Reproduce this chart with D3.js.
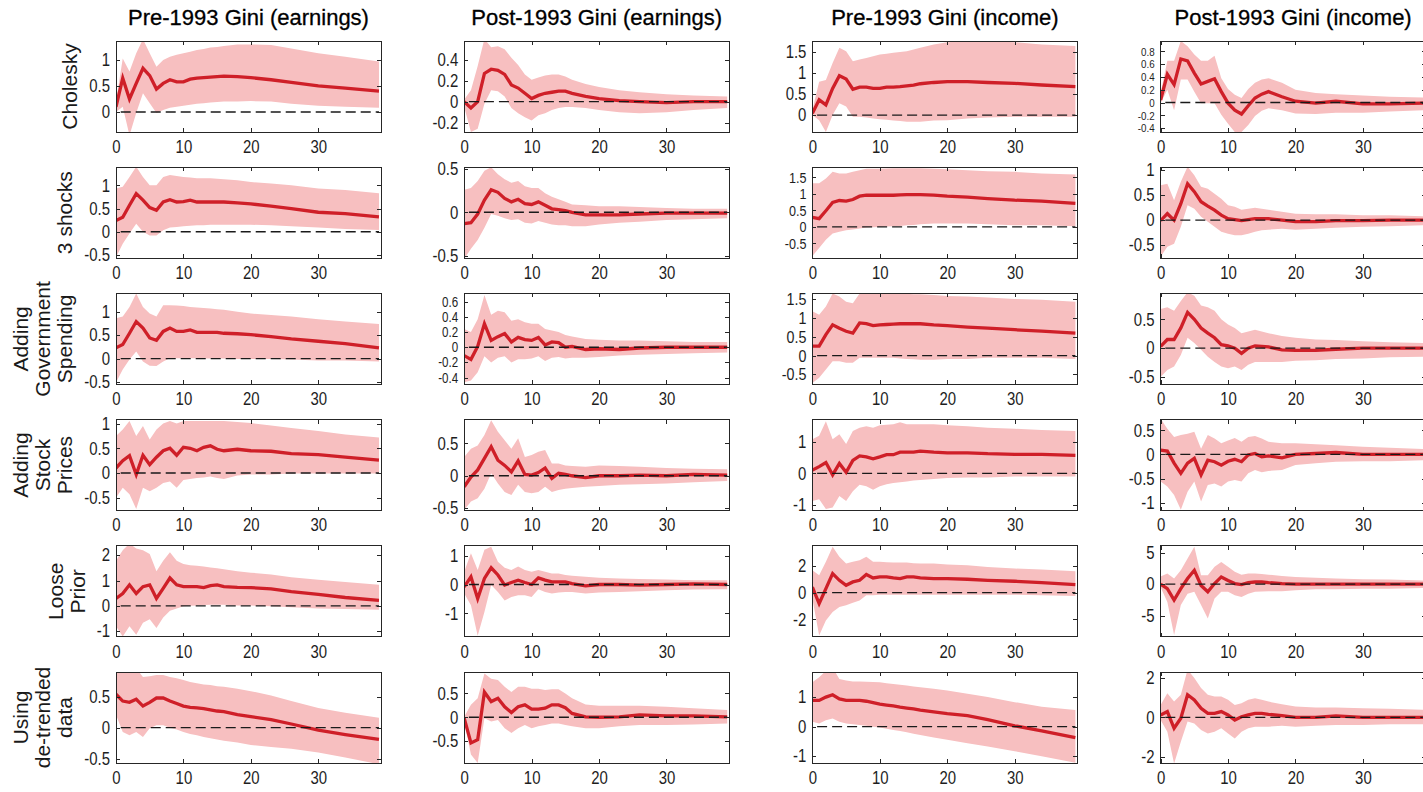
<!DOCTYPE html>
<html>
<head>
<meta charset="utf-8">
<script src="https://cdn.jsdelivr.net/npm/d3@7"></script>
<style>
  body { margin: 0; background: #fff; }
  svg { display: block; font-family: "Liberation Sans", Arial, Helvetica, sans-serif; }
  .axis text { fill: #1e1e1e; font-size: 18px; }
  .axis line { stroke: #262626; shape-rendering: crispEdges; }
  .axis .domain { display: none; }
</style>
</head>
<body>
<div id="chartDiv"></div>
<script>
const steps = [0,1,2,3,4,5,6,7,8,9,10,11,12,13,14,15,16,18,20,23,26,30,34,39];

const colTitles = ["Pre-1993 Gini (earnings)", "Post-1993 Gini (earnings)", "Pre-1993 Gini (income)", "Post-1993 Gini (income)"];

const rowLabels = [
  ["Cholesky"],
  ["3 shocks"],
  ["Adding", "Government", "Spending"],
  ["Adding", "Stock", "Prices"],
  ["Loose", "Prior"],
  ["Using", "de-trended", "data"]
];

const xTicks = [0, 10, 20, 30];

// y ticks per column, one list per row
const yTickValues = [
  [[0,0.5,1], [-0.5,0,0.5,1], [-0.5,0,0.5,1], [-0.5,0,0.5,1], [-1,0,1,2], [-0.5,0,0.5]],
  [[-0.2,0,0.2,0.4], [-0.5,0,0.5], [-0.4,-0.2,0,0.2,0.4,0.6], [-0.5,0,0.5], [-1,0,1], [-0.5,0,0.5]],
  [[0,0.5,1,1.5], [-0.5,0,0.5,1,1.5], [-0.5,0,0.5,1,1.5], [-1,0,1], [-2,0,2], [-1,0,1]],
  [[-0.4,-0.2,0,0.2,0.4,0.6,0.8], [-0.5,0,0.5,1], [-0.5,0,0.5], [-1,-0.5,0,0.5], [-5,0,5], [-2,0,2]]
];

// y axis limits per column / row
const yLimits = [
  [[-0.385,1.365], [-0.57,1.39], [-0.55,1.39], [-0.76,1.08], [-1.22,2.37], [-0.57,0.90]],
  [[-0.29,0.58], [-0.53,0.52], [-0.49,0.71], [-0.54,0.87], [-1.81,1.34], [-0.96,0.95]],
  [[-0.40,1.75], [-0.95,1.81], [-0.77,1.66], [-1.18,1.70], [-3.3,3.5], [-1.23,1.85]],
  [[-0.46,0.96], [-0.76,1.06], [-0.63,0.95], [-1.16,0.72], [-8.3,6.06], [-2.33,2.31]]
];

// ---- Pre-1993 Gini (earnings)
const preEarnMed = [
  [0.1,0.65,0.25,0.55,0.84,0.7,0.44,0.55,0.62,0.58,0.58,0.63,0.65,0.66,0.67,0.68,0.69,0.68,0.66,0.62,0.57,0.5,0.46,0.4],
  [0.24,0.31,0.57,0.82,0.68,0.52,0.46,0.64,0.69,0.64,0.65,0.68,0.64,0.64,0.64,0.64,0.64,0.62,0.6,0.55,0.5,0.42,0.39,0.32],
  [0.23,0.3,0.54,0.79,0.65,0.44,0.39,0.58,0.65,0.58,0.58,0.61,0.56,0.56,0.56,0.56,0.54,0.53,0.51,0.47,0.42,0.37,0.32,0.23],
  [0.1,0.25,0.35,-0.03,0.36,0.17,0.32,0.45,0.5,0.36,0.52,0.5,0.45,0.52,0.55,0.48,0.45,0.48,0.45,0.44,0.39,0.37,0.32,0.26],
  [0.29,0.49,0.83,0.49,0.76,0.83,0.29,0.69,1.1,0.83,0.76,0.76,0.76,0.72,0.8,0.83,0.76,0.73,0.72,0.67,0.56,0.45,0.33,0.22],
  [0.54,0.43,0.41,0.46,0.35,0.41,0.48,0.48,0.43,0.39,0.35,0.33,0.32,0.31,0.29,0.27,0.26,0.21,0.18,0.13,0.06,-0.04,-0.11,-0.19]
];
const preEarnLo = [
  [0.0,0.1,-0.45,-0.02,0.36,0.17,-0.02,0.04,0.08,0.1,0.12,0.14,0.16,0.17,0.18,0.19,0.2,0.2,0.21,0.2,0.16,0.12,0.1,0.08],
  [-0.55,-0.26,-0.04,0.17,0.0,-0.08,-0.08,0.03,0.09,0.1,0.12,0.13,0.14,0.14,0.15,0.15,0.15,0.15,0.15,0.14,0.12,0.09,0.06,0.04],
  [-0.51,-0.23,-0.02,0.15,-0.06,-0.15,-0.16,-0.06,0.01,0.01,0.01,0.01,0.01,0.0,0.0,0.0,0.0,-0.01,-0.01,-0.01,-0.02,-0.04,-0.04,-0.06],
  [-0.5,-0.3,-0.43,-0.73,-0.3,-0.37,-0.3,-0.2,-0.17,-0.3,-0.14,-0.12,-0.1,-0.09,-0.07,-0.1,-0.12,-0.05,-0.03,-0.03,-0.01,-0.01,-0.01,-0.01],
  [-0.8,-1.21,-0.8,-1.14,-0.67,-0.53,-0.87,-0.46,-0.19,-0.1,-0.01,0.0,0.01,0.03,0.04,0.04,0.04,0.01,0.01,-0.01,-0.05,-0.1,-0.12,-0.15],
  [0.21,-0.07,-0.12,-0.07,-0.15,-0.01,0.04,0.04,0.0,-0.03,-0.07,-0.1,-0.12,-0.15,-0.17,-0.19,-0.21,-0.24,-0.28,-0.31,-0.34,-0.4,-0.48,-0.59]
];
const preEarnHi = [
  [0.2,1.03,0.78,1.13,1.4,1.13,0.87,1.0,1.06,1.1,1.13,1.16,1.19,1.21,1.24,1.25,1.27,1.3,1.3,1.29,1.22,1.13,1.06,0.97],
  [0.93,0.97,1.18,1.4,1.18,1.0,1.0,1.18,1.22,1.2,1.18,1.17,1.15,1.15,1.15,1.14,1.13,1.11,1.07,1.04,1.0,0.93,0.9,0.83],
  [0.86,0.9,1.1,1.39,1.1,0.96,0.9,1.14,1.14,1.13,1.12,1.1,1.09,1.08,1.07,1.05,1.04,1.0,0.96,0.93,0.9,0.84,0.79,0.74],
  [0.75,0.88,1.05,0.75,0.95,0.68,0.88,1.0,1.05,1.0,1.05,1.05,1.05,1.05,1.05,1.05,1.05,1.03,1.01,0.96,0.91,0.85,0.78,0.72],
  [1.78,2.19,2.46,2.26,2.19,2.05,1.37,1.78,2.12,1.78,1.65,1.6,1.58,1.55,1.51,1.48,1.44,1.37,1.31,1.24,1.13,1.03,0.94,0.83],
  [0.88,0.91,0.93,0.96,0.82,0.83,0.85,0.85,0.82,0.8,0.77,0.74,0.72,0.7,0.69,0.67,0.66,0.63,0.59,0.52,0.43,0.32,0.24,0.16]
];

// ---- Post-1993 Gini (earnings)
const postEarnMed = [
  [0,-0.06,0,0.27,0.31,0.3,0.26,0.16,0.13,0.08,0.03,0.06,0.08,0.09,0.1,0.1,0.08,0.05,0.03,0.01,0,-0.01,0,0],
  [-0.13,-0.12,-0.02,0.14,0.26,0.23,0.16,0.12,0.15,0.1,0.09,0.12,0.08,0.04,0.03,0.02,0,-0.03,-0.03,-0.03,-0.02,-0.01,-0.01,-0.01],
  [-0.11,-0.16,0.01,0.31,0.09,0.14,0.18,0.07,0.13,0.1,0.09,0.13,0.03,0.07,0.06,0,0.01,-0.03,-0.02,-0.03,-0.01,0,0,0],
  [-0.17,-0.02,0.09,0.27,0.45,0.24,0.16,0.06,0.23,0.02,0.01,0.05,0.12,-0.04,0.04,0.02,0,-0.03,0,0,0.01,0,0.02,0.01],
  [-0.08,0.27,-0.49,0.21,0.58,0.33,-0.02,0.07,0.15,0.07,0,0.23,0.15,0.09,0.09,0.09,0.03,-0.05,0,0,-0.02,0,0.02,0],
  [-0.02,-0.54,-0.47,0.53,0.33,0.4,0.22,0.1,0.22,0.26,0.17,0.17,0.19,0.26,0.26,0.2,0.08,0.01,0,0.01,0.05,0.03,0.03,0.01]
];
const postEarnLo = [
  [-0.05,-0.29,-0.26,-0.02,0.11,0.1,0.05,-0.06,-0.11,-0.15,-0.18,-0.13,-0.11,-0.08,-0.06,-0.05,-0.05,-0.06,-0.08,-0.1,-0.11,-0.1,-0.08,-0.06],
  [-0.54,-0.42,-0.32,-0.18,-0.02,-0.04,-0.07,-0.09,-0.08,-0.12,-0.13,-0.1,-0.12,-0.14,-0.15,-0.15,-0.16,-0.16,-0.14,-0.12,-0.11,-0.09,-0.08,-0.07],
  [-0.46,-0.44,-0.33,-0.12,-0.2,-0.14,-0.12,-0.2,-0.16,-0.16,-0.15,-0.12,-0.18,-0.14,-0.13,-0.15,-0.14,-0.14,-0.13,-0.11,-0.1,-0.09,-0.08,-0.07],
  [-0.53,-0.4,-0.35,-0.2,0.04,-0.12,-0.25,-0.3,-0.14,-0.25,-0.27,-0.25,-0.17,-0.25,-0.22,-0.2,-0.19,-0.17,-0.16,-0.14,-0.13,-0.12,-0.1,-0.08],
  [-0.31,-0.72,-1.77,-0.95,-0.02,-0.26,-0.55,-0.43,-0.37,-0.37,-0.43,-0.16,-0.26,-0.31,-0.28,-0.26,-0.26,-0.31,-0.28,-0.26,-0.23,-0.2,-0.17,-0.16],
  [-0.09,-0.78,-0.96,-0.02,-0.09,-0.06,-0.23,-0.33,-0.23,-0.16,-0.23,-0.19,-0.16,-0.13,-0.13,-0.16,-0.19,-0.23,-0.23,-0.19,-0.16,-0.16,-0.15,-0.13]
];
const postEarnHi = [
  [0.02,0.11,0.34,0.6,0.52,0.53,0.5,0.42,0.35,0.26,0.21,0.23,0.25,0.26,0.26,0.24,0.21,0.17,0.14,0.11,0.09,0.07,0.06,0.05],
  [0.26,0.28,0.36,0.48,0.52,0.44,0.38,0.34,0.36,0.3,0.28,0.28,0.22,0.18,0.15,0.12,0.09,0.08,0.07,0.07,0.06,0.05,0.04,0.04],
  [0.24,0.2,0.37,0.69,0.43,0.48,0.46,0.35,0.37,0.33,0.31,0.31,0.24,0.22,0.2,0.16,0.14,0.11,0.1,0.09,0.09,0.08,0.07,0.07],
  [0.29,0.42,0.47,0.63,0.86,0.68,0.55,0.42,0.58,0.29,0.32,0.37,0.4,0.19,0.19,0.16,0.15,0.14,0.16,0.15,0.14,0.12,0.11,0.1],
  [0.44,1.08,0.5,1.2,1.31,0.79,0.58,0.5,0.62,0.5,0.44,0.5,0.44,0.38,0.38,0.33,0.3,0.27,0.23,0.21,0.19,0.17,0.15,0.15],
  [0.01,0.26,0.4,0.92,0.81,0.78,0.64,0.53,0.64,0.64,0.6,0.6,0.57,0.59,0.59,0.5,0.4,0.27,0.24,0.24,0.24,0.22,0.19,0.15]
];

// ---- Pre-1993 Gini (income)
const preIncMed = [
  [0.04,0.36,0.24,0.63,0.93,0.85,0.61,0.66,0.66,0.63,0.63,0.66,0.66,0.67,0.69,0.71,0.74,0.77,0.79,0.79,0.77,0.75,0.71,0.67],
  [0.29,0.25,0.49,0.74,0.8,0.78,0.83,0.93,0.96,0.96,0.96,0.96,0.96,0.97,0.98,0.98,0.98,0.96,0.93,0.9,0.86,0.81,0.78,0.71],
  [0.25,0.25,0.56,0.82,0.73,0.65,0.6,0.87,0.85,0.8,0.82,0.83,0.84,0.85,0.85,0.85,0.85,0.82,0.8,0.76,0.73,0.69,0.65,0.6],
  [0.1,0.21,0.34,-0.05,0.31,0.03,0.41,0.55,0.52,0.46,0.52,0.59,0.59,0.67,0.67,0.67,0.7,0.67,0.65,0.65,0.62,0.6,0.6,0.57],
  [0.42,-0.82,0.3,1.42,0.92,0.55,0.8,0.92,1.35,1.1,1.18,1.18,1.1,1.05,1.18,1.18,1.1,1.05,1.05,1.0,0.92,0.85,0.75,0.6],
  [0.89,0.89,1.0,1.08,0.94,0.89,0.89,0.89,0.86,0.81,0.76,0.73,0.7,0.66,0.63,0.6,0.56,0.5,0.44,0.37,0.24,0.03,-0.14,-0.37]
];
const preIncLo = [
  [0,-0.12,-0.4,0,0.28,0.2,-0.04,-0.04,-0.06,-0.08,-0.1,-0.11,-0.13,-0.14,-0.16,-0.16,-0.16,-0.13,-0.12,-0.08,-0.06,-0.04,-0.04,-0.04],
  [-0.88,-0.64,-0.39,-0.2,-0.15,-0.1,-0.08,-0.05,-0.02,-0.01,0,0.01,0.02,0.03,0.05,0.06,0.08,0.1,0.1,0.1,0.08,0.05,0.05,0.02],
  [-0.73,-0.59,-0.37,-0.15,-0.15,-0.19,-0.19,-0.06,-0.06,-0.06,-0.06,-0.06,-0.06,-0.08,-0.09,-0.1,-0.11,-0.11,-0.09,-0.09,-0.06,-0.06,-0.06,-0.09],
  [-0.88,-0.82,-1.13,-1.08,-0.72,-0.88,-0.57,-0.36,-0.41,-0.52,-0.41,-0.35,-0.31,-0.28,-0.26,-0.23,-0.21,-0.18,-0.15,-0.13,-0.13,-0.1,-0.1,-0.1],
  [-0.45,-3.2,-2.08,-1.45,-1.08,-0.95,-0.75,-0.58,-0.2,-0.2,-0.15,-0.15,-0.15,-0.15,-0.15,-0.15,-0.15,-0.15,-0.15,-0.15,-0.15,-0.15,-0.2,-0.25],
  [0.17,0.11,0.22,0.28,0.17,0.11,0.08,0.06,0.03,0.0,-0.03,-0.07,-0.11,-0.15,-0.19,-0.24,-0.28,-0.37,-0.44,-0.56,-0.67,-0.83,-1.0,-1.22]
];
const preIncHi = [
  [0.12,0.79,0.83,1.23,1.59,1.51,1.27,1.31,1.35,1.39,1.43,1.45,1.47,1.49,1.51,1.55,1.59,1.67,1.72,1.75,1.75,1.72,1.67,1.63],
  [1.32,1.32,1.47,1.67,1.62,1.62,1.67,1.72,1.76,1.76,1.76,1.77,1.78,1.78,1.78,1.78,1.78,1.76,1.75,1.72,1.69,1.67,1.62,1.59],
  [1.18,1.09,1.31,1.66,1.58,1.44,1.4,1.66,1.66,1.65,1.65,1.65,1.65,1.65,1.65,1.64,1.64,1.62,1.59,1.58,1.55,1.51,1.49,1.44],
  [1.08,1.19,1.65,1.08,1.24,0.93,1.34,1.44,1.49,1.44,1.52,1.54,1.55,1.62,1.55,1.55,1.55,1.55,1.52,1.49,1.44,1.41,1.37,1.34],
  [1.68,1.3,2.3,3.42,2.68,2.18,2.3,2.42,2.68,2.3,2.3,2.28,2.25,2.25,2.25,2.2,2.18,2.18,2.1,2.05,1.92,1.8,1.72,1.6],
  [1.5,1.67,1.89,2.0,1.61,1.56,1.53,1.53,1.52,1.51,1.5,1.47,1.44,1.42,1.39,1.36,1.33,1.28,1.22,1.11,1.0,0.83,0.67,0.56]
];

// ---- Post-1993 Gini (income)
const postIncMed = [
  [0.04,0.44,0.28,0.68,0.65,0.46,0.29,0.33,0.37,0.17,-0.01,-0.12,-0.18,-0.05,0.07,0.13,0.17,0.09,0.02,-0.01,0.02,-0.02,-0.02,-0.01],
  [-0.01,0.13,0,0.33,0.73,0.57,0.37,0.28,0.2,0.1,0.03,0.01,-0.01,0.01,0.03,0.03,0.03,0,-0.03,-0.03,-0.01,-0.01,0,0],
  [0.03,0.15,0.15,0.35,0.62,0.5,0.35,0.26,0.18,0.06,0.04,0,-0.09,0,0.04,0.03,0.02,-0.03,-0.04,-0.04,-0.02,0,0,0],
  [0.09,0.07,-0.18,-0.39,-0.18,-0.08,-0.42,-0.12,-0.15,-0.22,-0.14,-0.1,-0.15,-0.01,0.02,-0.05,-0.03,-0.07,0,0.02,0.04,0,0,0],
  [0,-0.7,-2.5,-0.7,0.9,2.2,-0.2,-1.2,0.1,1.15,0.6,0.1,-0.05,0.25,0.35,0.35,0.25,0.1,0,0,0,0,0,0],
  [0.12,0.29,-0.56,-0.05,1.15,0.89,0.46,0.2,0.2,0.29,0.12,-0.14,0.03,0.12,0.2,0.2,0.15,0.09,0,0,0.07,0,0,0]
];
const postIncLo = [
  [-0.01,0.2,-0.12,0.36,0.36,0.17,-0.01,-0.01,-0.01,-0.19,-0.33,-0.46,-0.46,-0.35,-0.21,-0.13,-0.09,-0.12,-0.17,-0.18,-0.16,-0.16,-0.14,-0.12],
  [-0.73,-0.53,-0.47,-0.13,0.3,0.23,0.07,-0.03,-0.13,-0.23,-0.27,-0.3,-0.3,-0.27,-0.23,-0.2,-0.19,-0.17,-0.19,-0.17,-0.15,-0.13,-0.12,-0.1],
  [-0.5,-0.38,-0.32,-0.12,0.18,0.09,-0.03,-0.15,-0.24,-0.32,-0.35,-0.32,-0.38,-0.29,-0.24,-0.24,-0.24,-0.24,-0.22,-0.21,-0.19,-0.18,-0.16,-0.15],
  [-0.56,-0.66,-0.84,-1.14,-0.77,-0.56,-0.97,-0.63,-0.6,-0.66,-0.56,-0.53,-0.56,-0.39,-0.32,-0.37,-0.34,-0.32,-0.22,-0.18,-0.15,-0.14,-0.14,-0.12],
  [-0.5,-2.8,-8.0,-3.3,-1.5,-1.2,-3.3,-5.4,-2.25,-1.2,-1.2,-1.75,-2.0,-1.5,-1.2,-1.15,-1.1,-1.1,-0.95,-0.8,-0.8,-0.7,-0.7,-0.6],
  [-0.14,-0.74,-2.36,-1.25,-0.22,-0.31,-0.65,-0.82,-0.74,-0.56,-0.82,-1.08,-0.74,-0.56,-0.48,-0.48,-0.48,-0.43,-0.48,-0.43,-0.39,-0.39,-0.36,-0.36]
];
const postIncHi = [
  [0.15,0.65,0.65,0.96,0.88,0.75,0.65,0.65,0.73,0.38,0.21,0.12,0.07,0.21,0.31,0.36,0.38,0.31,0.2,0.15,0.13,0.11,0.09,0.08],
  [0.7,0.73,0.4,0.77,1.07,0.9,0.67,0.63,0.53,0.43,0.3,0.27,0.21,0.23,0.25,0.23,0.21,0.17,0.13,0.12,0.12,0.1,0.1,0.08],
  [0.68,0.71,0.65,0.82,0.97,0.91,0.74,0.71,0.65,0.5,0.41,0.35,0.26,0.29,0.32,0.29,0.26,0.21,0.18,0.15,0.14,0.12,0.1,0.09],
  [0.74,0.53,0.36,0.4,0.43,0.47,0.12,0.4,0.33,0.23,0.29,0.34,0.26,0.36,0.38,0.33,0.26,0.23,0.23,0.21,0.19,0.16,0.14,0.11],
  [1.2,1.7,0.9,2.2,4.05,5.9,1.4,1.4,2.75,3.5,2.75,1.95,1.5,1.7,1.7,1.6,1.5,1.3,1.15,1.0,0.9,0.8,0.75,0.6],
  [0.63,1.23,0.8,1.15,2.43,2.0,1.49,1.15,1.06,1.06,0.89,0.63,0.72,0.89,0.97,0.9,0.8,0.67,0.55,0.5,0.5,0.46,0.43,0.38]
];

const columns = [
  { med: preEarnMed, lo: preEarnLo, hi: preEarnHi },
  { med: postEarnMed, lo: postEarnLo, hi: postEarnHi },
  { med: preIncMed, lo: preIncLo, hi: preIncHi },
  { med: postIncMed, lo: postIncLo, hi: postIncHi }
];

const width = 1423, height = 792;
const panelW = 265, panelH = 91;
const left0 = 116, colStep = 348.2;
const top0 = 41, rowStep = 126.2;
const xMax = 39.3;

const bandColor = "#f7bfc0";
const lineColor = "#cf1f28";

let svg = d3.select("#chartDiv").append("svg")
    .attr("width", width)
    .attr("height", height);

let x = d3.scaleLinear().domain([0, xMax]).range([0, panelW]);
const fmt = d => String(d);

// the figure's tick font is a narrow one: squeeze the labels horizontally
function squeeze(sel, size) {
    sel.selectAll("text").each(function () {
        let t = d3.select(this).style("font-size", size + "px");
        let w = this.getComputedTextLength();
        if (w > 0) t.attr("textLength", w * 0.83).attr("lengthAdjust", "spacingAndGlyphs");
    });
}

columns.forEach((col, c) => {
    let px = left0 + c * colStep;

    // column title
    svg.append("text")
        .attr("x", px + panelW / 2)
        .attr("y", 25)
        .attr("text-anchor", "middle")
        .style("font-size", "22px")
        .style("fill", "#000")
        .style("stroke", "#000")
        .style("stroke-width", 0.3)
        .text(colTitles[c]);

    col.med.forEach((medRow, r) => {
        let py = top0 + r * rowStep;
        let y = d3.scaleLinear().domain(yLimits[c][r]).range([panelH, 0]);
        let g = svg.append("g").attr("transform", `translate(${px},${py})`);

        let clipId = `clip-${c}-${r}`;
        g.append("clipPath").attr("id", clipId)
            .append("rect").attr("width", panelW).attr("height", panelH);

        let pts = steps.map((s, i) => ({ s: s, m: medRow[i], lo: col.lo[r][i], hi: col.hi[r][i] }));

        let plot = g.append("g").attr("clip-path", `url(#${clipId})`);

        // error band
        plot.append("path")
            .datum(pts)
            .attr("fill", bandColor)
            .attr("d", d3.area().x(d => x(d.s)).y0(d => y(d.lo)).y1(d => y(d.hi)));

        // median response
        plot.append("path")
            .datum(pts)
            .attr("fill", "none")
            .attr("stroke", lineColor)
            .attr("stroke-width", 3.3)
            .attr("d", d3.line().x(d => x(d.s)).y(d => y(d.m)));

        // zero line
        plot.append("line")
            .attr("x1", x(0.7)).attr("x2", x(39))
            .attr("y1", y(0)).attr("y2", y(0))
            .attr("stroke", "#1a1a1a")
            .attr("stroke-width", 1.3)
            .attr("stroke-dasharray", "10,5");

        // axes box with inward ticks on all sides
        g.append("rect")
            .attr("width", panelW).attr("height", panelH)
            .attr("fill", "none")
            .attr("stroke", "#262626")
            .attr("stroke-width", 1)
            .attr("shape-rendering", "crispEdges");

        // crowded tick lists get a smaller font
        let tv = yTickValues[c][r];
        let gap = Math.abs(y(tv[1]) - y(tv[0]));
        let ySize = Math.min(18, gap * 0.92);

        let yAxis = g.append("g").attr("class", "axis")
            .call(d3.axisLeft(y).tickValues(tv).tickSize(-4).tickPadding(6).tickFormat(fmt));
        squeeze(yAxis, ySize);
        g.append("g").attr("class", "axis")
            .attr("transform", `translate(${panelW},0)`)
            .call(d3.axisRight(y).tickValues(tv).tickSize(-4).tickFormat(""));
        let xAxis = g.append("g").attr("class", "axis")
            .attr("transform", `translate(0,${panelH})`)
            .call(d3.axisBottom(x).tickValues(xTicks).tickSize(-4).tickPadding(8).tickFormat(fmt));
        squeeze(xAxis, 18);
        g.append("g").attr("class", "axis")
            .call(d3.axisTop(x).tickValues(xTicks).tickSize(-4).tickFormat(""));

        // row labels only on the first column
        if (c === 0) {
            let minX = 0;
            yAxis.selectAll("text").each(function () {
                let b = this.getBBox();
                minX = Math.min(minX, b.x);
            });
            let lines = rowLabels[r];
            let lab = svg.append("g")
                .attr("transform", `translate(${px + minX - 12},${py + panelH / 2}) rotate(-90)`);
            lines.forEach((t, i) => {
                lab.append("text")
                    .attr("x", 0)
                    .attr("y", -(lines.length - 1 - i) * 22)
                    .attr("text-anchor", "middle")
                    .style("font-size", "21px")
                    .style("fill", "#1a1a1a")
                    .text(t);
            });
        }
    });
});
</script>
</body>
</html>
